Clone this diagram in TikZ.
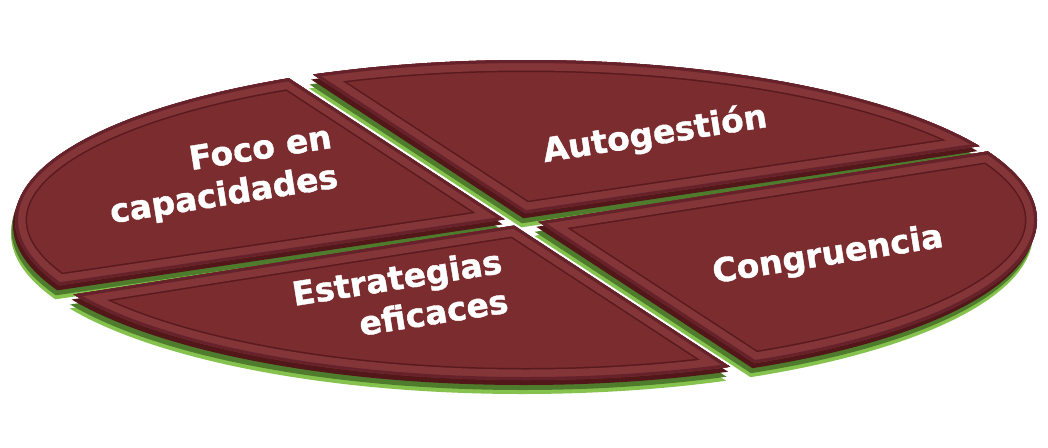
\documentclass[tikz,border=0pt]{standalone}
\usepackage{fontspec}
\setmainfont{DejaVu Sans}
\newfontfamily\lblfont[FakeBold=1.2]{DejaVu Sans Bold}
\definecolor{face}{HTML}{7B2C2F}
\definecolor{rim}{HTML}{843538}
\definecolor{groove}{HTML}{581A1D}
\definecolor{edgedark}{HTML}{66222A}
\definecolor{sidedark}{HTML}{521719}
\definecolor{sidegreen}{HTML}{4E7C2C}
\definecolor{sidelight}{HTML}{86C24E}
\newcommand{\discpath}{(526,220) ellipse [x radius=511pt, y radius=160pt]}
\newcommand{\drawpiece}[1]{%
  \foreach \dx/\dy/\col in {-4/14/sidelight, -3.5/10/sidegreen, -2/5/sidedark}{%
    \begin{scope}[shift={(\dx,\dy)}]
      \clip #1;
      \fill[\col] \discpath;
    \end{scope}
  }%
  \begin{scope}
    \clip #1;
    \clip \discpath;
    \fill[face] (-10,-10) rectangle (1058,457);
    \draw[groove, line width=24pt] #1;
    \draw[groove, line width=24pt] \discpath;
    \draw[rim, line width=21pt] #1;
    \draw[rim, line width=21pt] \discpath;
    \draw[edgedark, line width=6pt] #1;
    \draw[edgedark, line width=6pt] \discpath;
  \end{scope}
}
\tikzset{
  lbl/.style={font=\fontsize{33}{40}\selectfont\lblfont, text=white, align=right, rotate=9, inner sep=0pt}
}
\begin{document}
\begin{tikzpicture}[x=1pt, y=-1pt]
\useasboundingbox (0,0) rectangle (1048,447);
% piece 1: top-left
\drawpiece{(-10,-10) -- (153.9,-10) -- (504.7,219.4) -- (-10,295.6) -- cycle}
% piece 2: top-right
\drawpiece{(183.9,-10) -- (1058,-10) -- (1058,134.5) -- (525.4,213.3) -- cycle}
% piece 4: bottom-left
\drawpiece{(-10,307.6) -- (514.1,225.5) -- (868,457) -- (-10,457) -- cycle}
% piece 3: bottom-right
\drawpiece{(538.3,221.8) -- (1058,140.4) -- (1058,457) -- (898,457) -- cycle}
% labels
\node[lbl] (t1) at (221,177) {Foco en\\capacidades};
\node[lbl] (t2) at (655,135) {Autogestión};
\node[lbl] (t3) at (400,297) {Estrategias\\eficaces};
\node[lbl] (t4) at (828,256) {Congruencia};
\end{tikzpicture}
\end{document}
